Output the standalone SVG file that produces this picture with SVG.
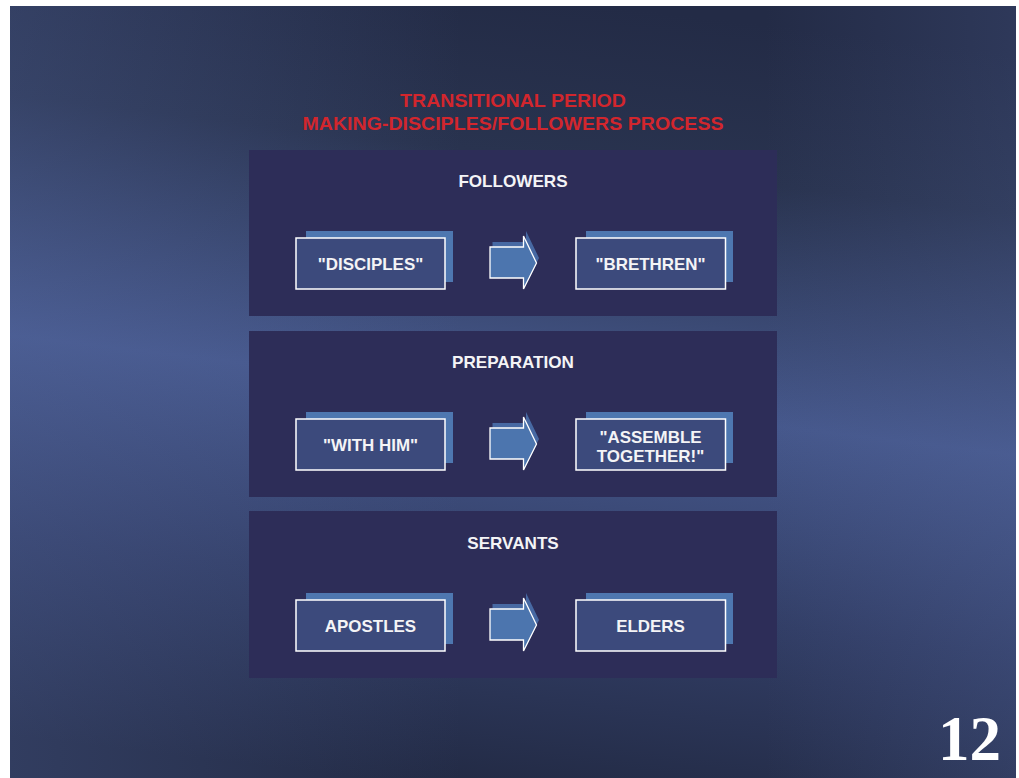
<svg xmlns="http://www.w3.org/2000/svg" width="1019" height="778" viewBox="0 0 1019 778">
  <defs>
    <!-- slide backdrop: dark navy with a lighter diagonal sheen across the middle -->
    <linearGradient id="bgBand" gradientUnits="userSpaceOnUse" x1="560" y1="0" x2="466" y2="790">
      <stop offset="0" stop-color="#232b46"/>
      <stop offset="0.2" stop-color="#29334f"/>
      <stop offset="0.5" stop-color="#46588c"/>
      <stop offset="0.75" stop-color="#323e66"/>
      <stop offset="1" stop-color="#222a44"/>
    </linearGradient>
    <linearGradient id="bgSide" x1="0" y1="0" x2="1" y2="0">
      <stop offset="0" stop-color="#5a6ea8" stop-opacity="0.28"/>
      <stop offset="0.45" stop-color="#5a6ea8" stop-opacity="0"/>
      <stop offset="0.75" stop-color="#5a6ea8" stop-opacity="0"/>
      <stop offset="1" stop-color="#5a6ea8" stop-opacity="0.2"/>
    </linearGradient>
    <!-- block arrow shape, drawn with its origin at the shaft's left-top corner -->
    <path id="blockArrow" d="M0,0 H33.5 V-11 L46.5,16 L33.5,42 V31 H0 Z"/>
  </defs>
  <style>
    .panel { fill: #2d2d58; }
    .shadow { fill: #4e77b0; }
    .box { fill: #3c4a7c; stroke: #ffffff; stroke-width: 1.5; }
    .arrowShadow { fill: #4769a3; }
    .arrow { fill: #4c75ae; stroke: #ffffff; stroke-width: 1.3; stroke-linejoin: miter; }
    text { transform-box: fill-box; transform-origin: center; }
    .title { font-family: "Liberation Sans", Arial, sans-serif; font-weight: bold; font-size: 17.5px; fill: #d2262d; text-anchor: middle; transform: scaleX(1.12); }
    .head { font-family: "Liberation Sans", Arial, sans-serif; font-weight: bold; font-size: 16px; fill: #f4f4f6; text-anchor: middle; transform: scaleX(1.07); }
    .label { font-family: "Liberation Sans", Arial, sans-serif; font-weight: bold; font-size: 16px; fill: #f4f4f6; text-anchor: middle; transform: scaleX(1.06); }
    .pageNo { font-family: "Liberation Serif", "Times New Roman", serif; font-weight: bold; font-size: 63px; fill: #ffffff; text-anchor: end; }
  </style>

  <rect x="0" y="0" width="1019" height="778" fill="#ffffff"/>
  <rect x="10" y="6" width="1006" height="772" fill="url(#bgBand)"/>
  <rect x="10" y="6" width="1006" height="772" fill="url(#bgSide)"/>

  <g id="heading">
    <text class="title" x="513" y="107">TRANSITIONAL PERIOD</text>
    <text class="title" x="513" y="130">MAKING-DISCIPLES/FOLLOWERS PROCESS</text>
  </g>

  <!-- section panels -->
  <g id="panel-followers">
    <rect class="panel" x="249" y="150" width="528" height="166"/>
    <text class="head" x="513" y="187">FOLLOWERS</text>
  </g>
  <g id="panel-preparation">
    <rect class="panel" x="249" y="331" width="528" height="166"/>
    <text class="head" x="513" y="368">PREPARATION</text>
  </g>
  <g id="panel-servants">
    <rect class="panel" x="249" y="511" width="528" height="167"/>
    <text class="head" x="513" y="549">SERVANTS</text>
  </g>

  <!-- nodes -->
  <g id="node-disciples">
    <rect class="shadow" x="306" y="231" width="147" height="51"/>
    <rect class="box" x="296" y="238" width="149" height="51"/>
    <text class="label" x="370.5" y="270">"DISCIPLES"</text>
  </g>
  <g id="node-brethren">
    <rect class="shadow" x="586" y="231" width="147" height="51"/>
    <rect class="box" x="576" y="238" width="149.5" height="51"/>
    <text class="label" x="650.5" y="270">"BRETHREN"</text>
  </g>
  <g id="node-with-him">
    <rect class="shadow" x="306" y="412" width="147" height="51"/>
    <rect class="box" x="296" y="419" width="149" height="51"/>
    <text class="label" x="370.5" y="451">"WITH HIM"</text>
  </g>
  <g id="node-assemble">
    <rect class="shadow" x="586" y="412" width="147" height="51"/>
    <rect class="box" x="576" y="419" width="149.5" height="51"/>
    <text class="label" x="650.5" y="443">"ASSEMBLE</text>
    <text class="label" x="650.5" y="462">TOGETHER!"</text>
  </g>
  <g id="node-apostles">
    <rect class="shadow" x="306" y="593" width="147" height="51"/>
    <rect class="box" x="296" y="600" width="149" height="51"/>
    <text class="label" x="370.5" y="632">APOSTLES</text>
  </g>
  <g id="node-elders">
    <rect class="shadow" x="586" y="593" width="147" height="51"/>
    <rect class="box" x="576" y="600" width="149.5" height="51"/>
    <text class="label" x="650.5" y="632">ELDERS</text>
  </g>

  <!-- connectors: block arrows between each pair -->
  <g id="connectors">
    <use href="#blockArrow" class="arrowShadow" x="492.5" y="242"/>
    <use href="#blockArrow" class="arrow" x="490" y="247"/>
    <use href="#blockArrow" class="arrowShadow" x="492.5" y="423"/>
    <use href="#blockArrow" class="arrow" x="490" y="428"/>
    <use href="#blockArrow" class="arrowShadow" x="492.5" y="604"/>
    <use href="#blockArrow" class="arrow" x="490" y="609"/>
  </g>

  <text id="page-number" class="pageNo" x="1001" y="760">12</text>
</svg>
